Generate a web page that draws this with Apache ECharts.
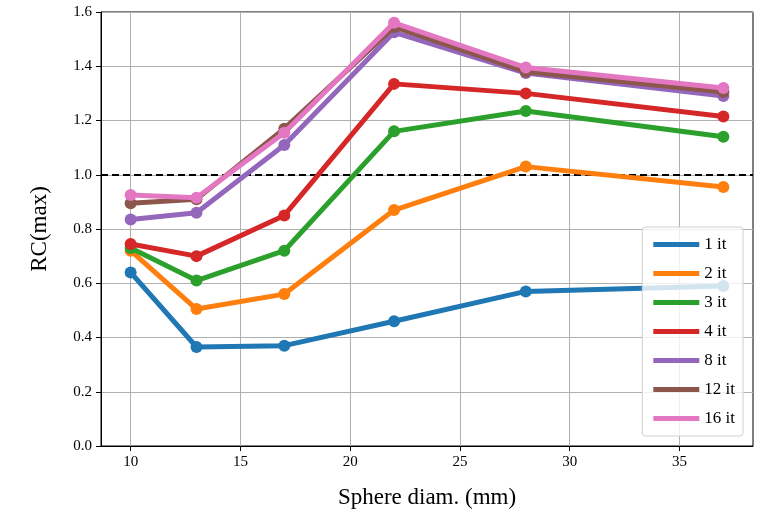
<!DOCTYPE html>
<html>
<head>
<meta charset="utf-8">
<script src="https://cdn.jsdelivr.net/npm/echarts@6/dist/echarts.min.js"></script>
<style>
  html, body { margin: 0; padding: 0; background: #fff; }
  #chart { width: 770px; height: 516px; }
</style>
</head>
<body>
<div id="chart"></div>
<script>
// sphere diameters (mm)
const diam = [10, 13, 17, 22, 28, 37]

const it1 = [0.64, 0.365, 0.37, 0.46, 0.57, 0.59]
const it2 = [0.72, 0.505, 0.56, 0.87, 1.03, 0.955]
const it3 = [0.73, 0.61, 0.72, 1.16, 1.235, 1.14]
const it4 = [0.745, 0.70, 0.85, 1.335, 1.30, 1.215]
const it8 = [0.835, 0.86, 1.11, 1.525, 1.375, 1.29]
const it12 = [0.895, 0.91, 1.17, 1.545, 1.38, 1.305]
const it16 = [0.925, 0.915, 1.155, 1.56, 1.395, 1.32]

const seriesNames = ['1 it', '2 it', '3 it', '4 it', '8 it', '12 it', '16 it']
const seriesData = [it1, it2, it3, it4, it8, it12, it16]
const xTicks = [10, 15, 20, 25, 30, 35]
const refLevel = 1.0

const palette = ['#1f77b4', '#ff7f0e', '#2ca02c', '#d62728', '#9467bd', '#8c564b', '#e377c2']
const serif = 'Liberation Serif, Times New Roman, serif'

const chart = echarts.init(document.getElementById('chart'))

const series = seriesNames.map((name, i) => ({
  name,
  type: 'line',
  data: diam.map((d, j) => [d, seriesData[i][j]]),
  symbol: 'circle',
  symbolSize: 12,
  lineStyle: { width: 5, color: palette[i] },
  itemStyle: { color: palette[i] },
  z: 3 + i,
}))

// dashed reference at 1.0
series[0].markLine = {
  silent: true,
  symbol: ['none', 'none'],
  label: { show: false },
  lineStyle: { color: '#000', type: [7, 4], width: 2 },
  data: [{ yAxis: refLevel }],
  z: 2,
}

chart.setOption({
  backgroundColor: '#fff',
  animation: false,
  color: palette,
  textStyle: { fontFamily: serif },
  grid: {
    left: 101, right: 17, top: 12, bottom: 70,
    show: true, borderColor: '#000', borderWidth: 1,
  },
  legend: {
    orient: 'vertical',
    right: 27, bottom: 80,
    data: seriesNames,
    icon: 'rect',
    itemWidth: 46,
    itemHeight: 5,
    itemGap: 12,
    padding: [9, 8, 9, 11],
    backgroundColor: 'rgba(255,255,255,0.8)',
    borderColor: '#d0d0d0',
    borderWidth: 1,
    borderRadius: 3,
    textStyle: { fontFamily: serif, fontSize: 17, color: '#000' },
  },
  xAxis: {
    type: 'value',
    min: 8.65,
    max: 38.35,
    name: 'Sphere diam. (mm)',
    nameLocation: 'middle',
    nameGap: 40,
    nameTextStyle: { fontFamily: serif, fontSize: 23, color: '#000' },
    axisLine: { show: true, onZero: false, lineStyle: { color: '#000' } },
    axisTick: { show: true, length: 5, customValues: xTicks, lineStyle: { color: '#000' } },
    axisLabel: { customValues: xTicks, fontFamily: serif, fontSize: 15, color: '#000', margin: 9 },
    splitLine: { show: true, customValues: xTicks, lineStyle: { color: '#b0b0b0', width: 1 } },
  },
  yAxis: {
    type: 'value',
    min: 0,
    max: 1.6,
    interval: 0.2,
    name: 'RC(max)',
    nameLocation: 'middle',
    nameGap: 50,
    nameTextStyle: { fontFamily: serif, fontSize: 23, color: '#000' },
    axisLine: { show: true, lineStyle: { color: '#000' } },
    axisTick: { show: true, length: 5, lineStyle: { color: '#000' } },
    axisLabel: {
      fontFamily: serif, fontSize: 15, color: '#000', margin: 9,
      formatter: (v) => v.toFixed(1),
    },
    splitLine: { show: true, lineStyle: { color: '#b0b0b0', width: 1 } },
  },
  series,
})
</script>
</body>
</html>
